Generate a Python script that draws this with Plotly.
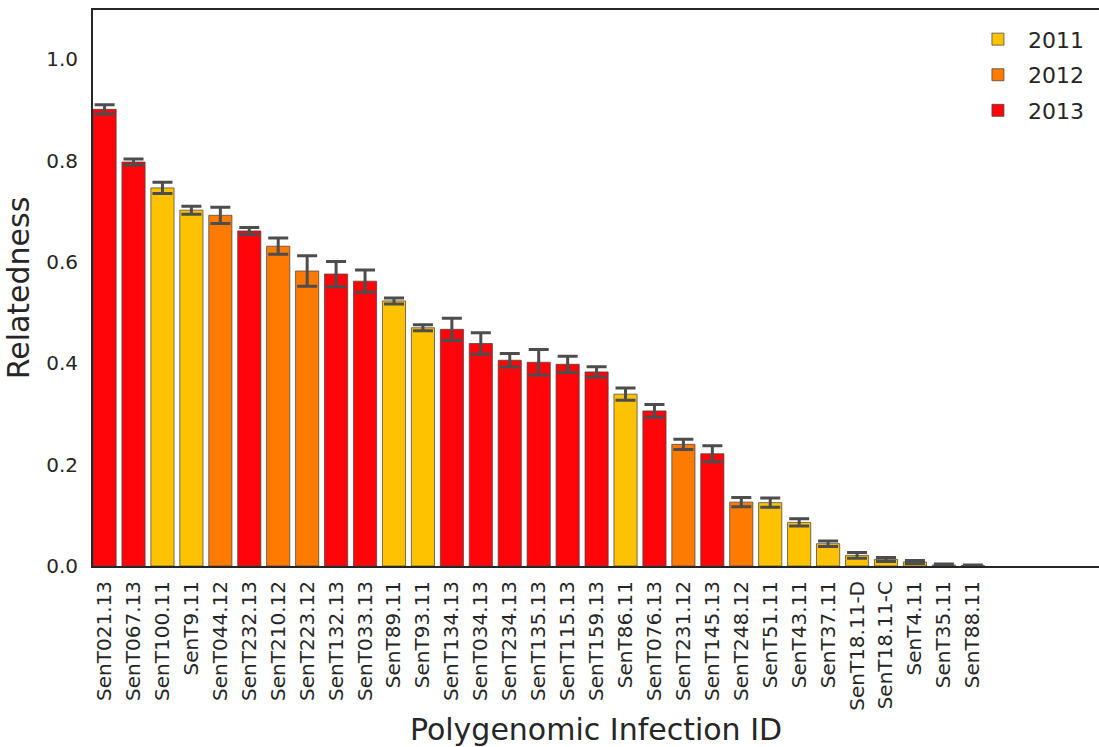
import plotly.graph_objects as go

labels = ["SenT021.13", "SenT067.13", "SenT100.11", "SenT9.11", "SenT044.12", "SenT232.13",
          "SenT210.12", "SenT223.12", "SenT132.13", "SenT033.13", "SenT89.11", "SenT93.11",
          "SenT134.13", "SenT034.13", "SenT234.13", "SenT135.13", "SenT115.13", "SenT159.13",
          "SenT86.11", "SenT076.13", "SenT231.12", "SenT145.13", "SenT248.12", "SenT51.11",
          "SenT43.11", "SenT37.11", "SenT18.11-D", "SenT18.11-C", "SenT4.11", "SenT35.11",
          "SenT88.11"]
values = [0.901, 0.797, 0.746, 0.702, 0.692, 0.661, 0.631, 0.582, 0.576, 0.562, 0.523, 0.470,
          0.467, 0.439, 0.406, 0.402, 0.398, 0.383, 0.339, 0.306, 0.240, 0.2215, 0.126, 0.125,
          0.086, 0.044, 0.021, 0.013, 0.008, 0.002, 0.001]
errors = [0.009, 0.006, 0.011, 0.008, 0.016, 0.007, 0.016, 0.030, 0.025, 0.022, 0.006, 0.006,
          0.022, 0.021, 0.0135, 0.025, 0.016, 0.010, 0.012, 0.0125, 0.010, 0.016, 0.009, 0.009,
          0.007, 0.0055, 0.0055, 0.004, 0.003, 0.002, 0.001]
years = [lab.split(".")[1][:2] for lab in labels]
year_names = {"11": "2011", "12": "2012", "13": "2013"}
colors = {"11": "#FFC200", "12": "#FF7B00", "13": "#FF0509"}

fig = go.Figure()
for y in ["11", "12", "13"]:
    idx = [i for i, yy in enumerate(years) if yy == y]
    fig.add_trace(go.Bar(
        x=idx, y=[values[i] for i in idx], name=year_names[y], width=0.8,
        legendgroup=year_names[y],
        marker=dict(color=colors[y], line=dict(color="rgba(70,70,70,0.75)", width=1)),
        error_y=dict(type="data", array=[errors[i] for i in idx], color="#4d4d4d",
                     thickness=3, width=10),
    ))

fig.update_layout(
    width=1099, height=747, barmode="overlay",
    margin=dict(l=93, r=0, t=10, b=181),
    plot_bgcolor="white", paper_bgcolor="white",
    font=dict(family="DejaVu Sans", color="#262626"),
    legend=dict(x=0.99, y=0.985, xanchor="right", yanchor="top",
                font=dict(size=22, color="#262626"), bgcolor="rgba(0,0,0,0)",
                itemwidth=50, tracegroupgap=4),
    xaxis=dict(range=[-0.4, 34.36], tickmode="array", tickvals=list(range(len(labels))),
               ticktext=labels, tickangle=-90, tickfont=dict(size=20, color="#262626"),
               showgrid=False, showline=True, linecolor="#262626", linewidth=2, mirror=True,
               ticks="", zeroline=False, ticklabelstandoff=5,
               title=dict(text="Polygenomic Infection ID", font=dict(size=30, color="#262626"),
                          standoff=10)),
    yaxis=dict(range=[0, 1.097], tickvals=[0, 0.2, 0.4, 0.6, 0.8, 1.0],
               ticktext=["0.0", "0.2", "0.4", "0.6", "0.8", "1.0"],
               tickfont=dict(size=20, color="#262626"), showgrid=False, showline=True,
               linecolor="#262626", linewidth=2, ticks="", zeroline=False,
               ticklabelstandoff=9,
               title=dict(text="Relatedness", font=dict(size=30, color="#262626"), standoff=8)),
)

fig.write_html("out.html", config={"displayModeBar": False},
               post_script="document.body.style.margin='0';")
